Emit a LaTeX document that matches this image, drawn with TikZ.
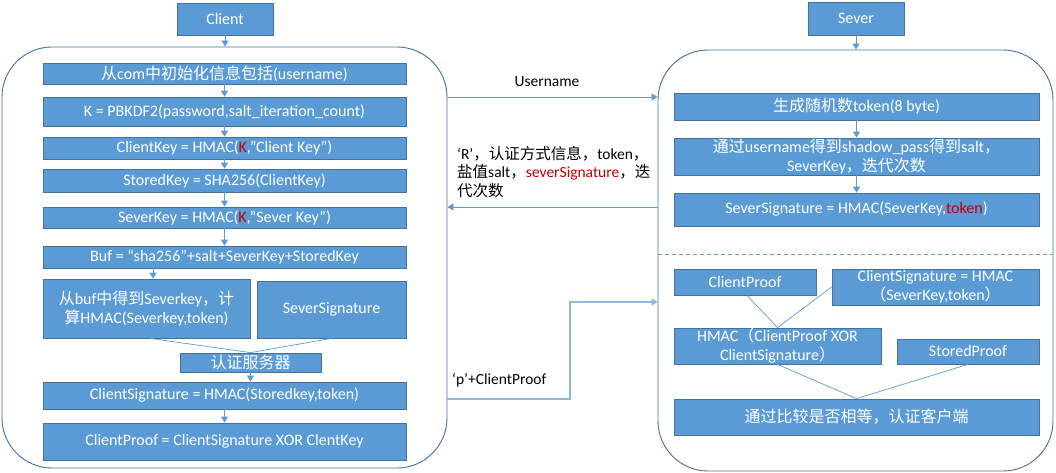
\documentclass[tikz,border=0pt]{standalone}
\usepackage{fontspec}
\setmainfont{Carlito}
\newfontfamily\cjk{Noto Sans CJK SC}
\usetikzlibrary{arrows.meta}
\definecolor{boxfill}{HTML}{5B9BD5}
\definecolor{boxline}{HTML}{41719C}
\definecolor{conn}{HTML}{5B9BD5}
\definecolor{lightconn}{HTML}{8FB8E0}
\definecolor{darkred}{HTML}{C00000}
\newcommand\zh[1]{{\cjk #1}}
\begin{document}
\begin{tikzpicture}[x=1pt,y=-1pt,
 box/.style={draw=boxline, fill=boxfill, line width=0.8pt, text=white, inner sep=0pt, align=center, font=\fontsize{16}{19.5}\selectfont},
 cont/.style={draw=boxline, line width=0.9pt, rounded corners=50pt, inner sep=0pt},
 arr/.style={draw=conn, line width=0.9pt, -{Triangle[length=6pt,width=7pt]}},
 conline/.style={draw=conn, line width=0.7pt},
 lbl/.style={font=\fontsize{15.5}{18.5}\selectfont, text=black, inner sep=0pt, align=left}]
\useasboundingbox (0,0) rectangle (1056,473);

% ---------- Client side ----------
\node[box, minimum width=96pt, minimum height=32pt] (cl) at (225,19) {Client};
\node[cont, minimum width=445pt, minimum height=421pt] (cc) at (224.5,257.5) {};

\node[box, minimum width=363pt, minimum height=21pt] (c1) at (224.5,73.5) {\zh{从}com\zh{中初始化信息包括}(username)};
\node[box, minimum width=363pt, minimum height=29pt] (c2) at (224.5,111.5) {K = PBKDF2(password,salt\_iteration\_count)};
\node[box, minimum width=363pt, minimum height=22pt] (c3) at (224.5,148) {ClientKey = HMAC(\textcolor{darkred}{K},”Client Key”)};
\node[box, minimum width=363pt, minimum height=23pt] (c4) at (224.5,180.5) {StoredKey = SHA256(ClientKey)};
\node[box, minimum width=363pt, minimum height=21pt] (c5) at (224.5,217.5) {SeverKey = HMAC(\textcolor{darkred}{K},”Sever Key”)};
\node[box, minimum width=363pt, minimum height=22pt] (c6) at (224.5,257) {Buf = “sha256”+salt+SeverKey+StoredKey};
\node[box, minimum width=207pt, minimum height=59pt] (c7a) at (146.5,308.5) {\zh{从}buf\zh{中得到}Severkey\zh{，计}\\\zh{算}HMAC(Severkey,token)};
\node[box, minimum width=149pt, minimum height=57pt] (c7b) at (331.5,309.5) {SeverSignature};
\node[box, minimum width=141pt, minimum height=19pt] (c8) at (250.5,362.5) {\zh{认证服务器}};
\node[box, minimum width=363pt, minimum height=27pt] (c9) at (224.5,395.5) {ClientSignature = HMAC(Storedkey,token)};
\node[box, minimum width=363pt, minimum height=37pt] (c10) at (224.5,441.5) {ClientProof = ClientSignature XOR ClentKey};

\draw[arr] (cl.south) -- (cl.south |- cc.north);
\draw[arr] (c1.south) -- (c2.north);
\draw[arr] (c2.south) -- (c3.north);
\draw[arr] (c3.south) -- (c4.north);
\draw[arr] (c4.south) -- (c5.north);
\draw[arr] (c5.south) -- (c6.north);
\draw[arr] ([xshift=6.5pt]c7a.north |- c6.south) -- ([xshift=6.5pt]c7a.north);
\draw[conline] ([xshift=3.5pt]c7a.south) -- (c8.north);
\draw[conline] (c7b.south) -- (c8.north);
\draw[arr] (c8.south) -- (c8.south |- c9.north);
\draw[arr] (c9.south) -- (c10.north);

% ---------- Server side ----------
\node[box, minimum width=96pt, minimum height=33pt] (sv) at (856,18.5) {Sever};
\node[cont, minimum width=395pt, minimum height=421pt] (sc) at (855.5,260.5) {};

\node[box, minimum width=365pt, minimum height=27pt] (s1) at (856.5,106.5) {\zh{生成随机数}token(8 byte)};
\node[box, minimum width=365pt, minimum height=37pt, font=\fontsize{16}{19}\selectfont] (s2) at (856.5,156.5) {\zh{通过}username\zh{得到}shadow\_pass\zh{得到}salt\zh{，}\\SeverKey\zh{，迭代次数}};
\node[box, minimum width=365pt, minimum height=33pt] (s3) at (856.5,209.5) {SeverSignature = HMAC(SeverKey,\textcolor{darkred}{token})};

\coordinate (dy) at (0,254);
\draw[draw=conn, line width=0.7pt, dash pattern=on 4pt off 3pt] (sc.west |- dy) -- (sc.east |- dy);

\node[box, minimum width=142pt, minimum height=26pt] (s4) at (745,282) {ClientProof};
\node[box, minimum width=207pt, minimum height=36pt, font=\fontsize{16}{19}\selectfont] (s5) at (935.5,287) {ClientSignature = HMAC\\\zh{（}SeverKey,token\zh{）}};
\node[box, minimum width=207pt, minimum height=36pt, font=\fontsize{16}{19}\selectfont] (s6) at (777.5,346) {HMAC\zh{（}ClientProof XOR\\ClientSignature\zh{）}};
\node[box, minimum width=142pt, minimum height=25pt] (s7) at (968,351.5) {StoredProof};
\node[box, minimum width=365pt, minimum height=36pt] (s8) at (856.5,417) {\zh{通过比较是否相等，认证客户端}};

\draw[arr] (sv.south) -- (sv.south |- sc.north);
\draw[arr] (s1.south) -- (s2.north);
\draw[arr] (s2.south) -- (s3.north);
\draw[conline] ([xshift=2pt]s4.south) -- (s6.north);
\draw[conline] (s5.west) -- (s6.north);
\draw[conline] (s6.south) -- (s8.north);
\draw[conline] (s7.south) -- (s8.north);

% ---------- Messages ----------
\coordinate (uy) at (0,97);
\coordinate (ry) at (0,207);
\coordinate (py) at (0,399);
\coordinate (pk) at (570,302);
\draw[arr] (cc.east |- uy) -- (sc.west |- uy);
\node[lbl] (ul) at (547,82) {Username};
\draw[arr] (sc.west |- ry) -- (cc.east |- ry);
\node[lbl, anchor=north west] (rl) at (457,146) {‘R’\zh{，认证方式信息，}token\zh{，}\\\zh{盐值}salt\zh{，}\textcolor{darkred}{severSignature}\zh{，迭}\\\zh{代次数}};
\draw[arr, draw=lightconn, line width=1.2pt] (cc.east |- py) -| (pk) -- (sc.west |- pk);
\node[lbl, anchor=west] (pl) at (452,380) {‘p’+ClientProof};
\end{tikzpicture}
\end{document}
